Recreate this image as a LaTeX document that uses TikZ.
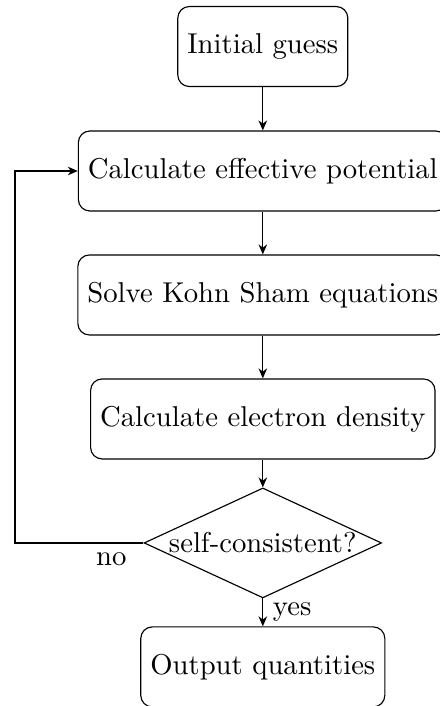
\documentclass[tikz,border=0pt]{standalone}
\usepackage{tikz}
\usetikzlibrary{positioning,arrows.meta,shapes.geometric}

\begin{document}
\begin{tikzpicture}[
  box/.style={draw,rounded corners=4pt,align=center,minimum height=0.98cm,inner sep=3.33pt},
  decide/.style={draw,diamond,shape aspect=2.16,inner sep=0.3pt,align=center},
  arr/.style={-{Stealth[length=3.5pt,width=3pt]}},
  lab/.style={inner sep=3.33pt}]
\useasboundingbox (0,0) rectangle (5.39,-8.65);
\node[box] (guess) at (3.22,-0.570) {Initial guess};
\node[box] (pot) at (3.22,-2.095) {Calculate effective potential};
\node[box] (ks) at (3.22,-3.614) {Solve Kohn Sham equations};
\node[box] (dens) at (3.22,-5.133) {Calculate electron density};
\node[decide] (sc) at (3.22,-6.652) {self-consistent?};
\node[box] (out) at (3.22,-8.171) {Output quantities};
\coordinate (back) at (0.184,-6.652);
\draw[arr] (guess) -- (pot);
\draw[arr] (pot) -- (ks);
\draw[arr] (ks) -- (dens);
\draw[arr] (dens) -- (sc);
\draw[arr] (sc) -- node[lab,right] {yes} (out);
\draw[arr] (sc.west) -- node[lab,near start,below] {no} (back) |- (pot.west);
\end{tikzpicture}
\end{document}
